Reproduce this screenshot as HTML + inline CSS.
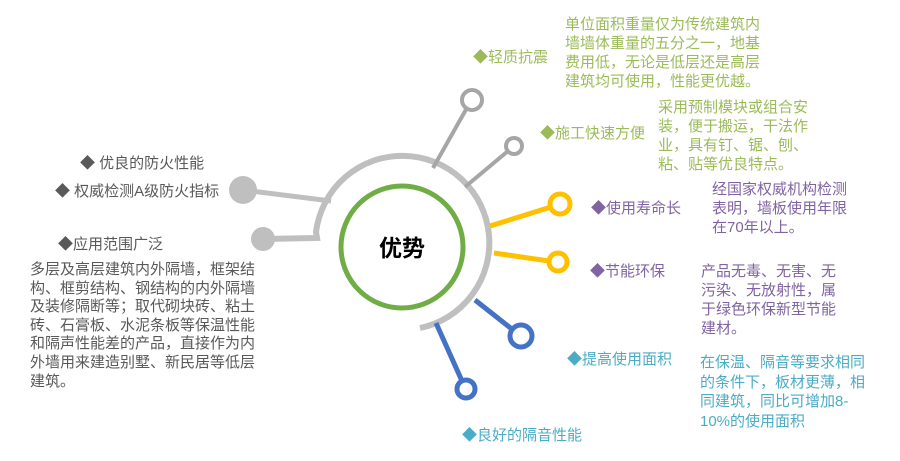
<!DOCTYPE html>
<html><head><meta charset="utf-8"><style>
body{margin:0;width:900px;height:461px;background:#fff;position:relative;overflow:hidden;font-family:"Liberation Sans","Noto Sans CJK SC",sans-serif;}
.t{position:absolute;font-size:15px;line-height:19px;white-space:nowrap;}
.g{color:#9bbb59}.p{color:#8064a2}.b{color:#4bacc6}.d{color:#595959}
svg{position:absolute;left:0;top:0}
</style></head><body>
<svg width="900" height="461">
<path d="M420,328 A87,87 0 1,0 316,232 L317,238 L263,239" fill="none" stroke="#bfbfbf" stroke-width="6"/>
<line x1="331" y1="201" x2="243" y2="190" stroke="#bfbfbf" stroke-width="5"/>
<circle cx="243" cy="190" r="14" fill="#bfbfbf"/>
<circle cx="263" cy="239" r="12" fill="#bfbfbf"/>
<line x1="433" y1="168" x2="468" y2="106" stroke="#a6a6a6" stroke-width="4"/>
<circle cx="472" cy="100" r="10" fill="#fff" stroke="#a6a6a6" stroke-width="4"/>
<line x1="465" y1="187" x2="508" y2="151" stroke="#a6a6a6" stroke-width="4"/>
<circle cx="514" cy="146" r="8" fill="#fff" stroke="#a6a6a6" stroke-width="4"/>
<line x1="490" y1="226" x2="551" y2="207" stroke="#ffc000" stroke-width="5"/>
<circle cx="560" cy="204" r="10" fill="#fff" stroke="#ffc000" stroke-width="5"/>
<line x1="494" y1="253" x2="549" y2="261" stroke="#ffc000" stroke-width="5"/>
<circle cx="558" cy="262" r="9" fill="#fff" stroke="#ffc000" stroke-width="5"/>
<line x1="475" y1="300" x2="513" y2="330" stroke="#4472c4" stroke-width="5"/>
<circle cx="521" cy="336" r="11" fill="#fff" stroke="#4472c4" stroke-width="5"/>
<line x1="436" y1="323" x2="462" y2="381" stroke="#4472c4" stroke-width="5"/>
<circle cx="466" cy="389" r="9" fill="#fff" stroke="#4472c4" stroke-width="5"/>
<circle cx="402" cy="247" r="61" fill="#fff" stroke="#70ad47" stroke-width="5"/>
<text x="402" y="256" text-anchor="middle" font-family="Liberation Sans,Noto Sans CJK SC,sans-serif" font-size="23" font-weight="bold" fill="#000">优势</text>
</svg>
<div class="t g" style="left:473px;top:48px">◆轻质抗震</div>
<div class="t g" style="left:565px;top:15px">单位面积重量仅为传统建筑内<br>墙墙体重量的五分之一，地基<br>费用低，无论是低层还是高层<br>建筑均可使用，性能更优越。</div>
<div class="t g" style="left:540px;top:124px">◆施工快速方便</div>
<div class="t g" style="left:658px;top:98px">采用预制模块或组合安<br>装，便于搬运，干法作<br>业，具有钉、锯、刨、<br>粘、贴等优良特点。</div>
<div class="t p" style="left:591px;top:199px">◆使用寿命长</div>
<div class="t p" style="left:712px;top:180px">经国家权威机构检测<br>表明，墙板使用年限<br>在70年以上。</div>
<div class="t p" style="left:590px;top:262px">◆节能环保</div>
<div class="t p" style="left:701px;top:262px">产品无毒、无害、无<br>污染、无放射性，属<br>于绿色环保新型节能<br>建材。</div>
<div class="t b" style="left:567px;top:350px">◆提高使用面积</div>
<div class="t b" style="left:700px;top:353px;line-height:19.5px">在保温、隔音等要求相同<br>的条件下，板材更薄，相<br>同建筑，同比可增加8-<br>10%的使用面积</div>
<div class="t b" style="left:462px;top:426px">◆良好的隔音性能</div>
<div class="t d" style="left:80px;top:154px">◆ 优良的防火性能</div>
<div class="t d" style="left:55px;top:182px">◆ 权威检测A级防火指标</div>
<div class="t d" style="left:58px;top:235px">◆应用范围广泛</div>
<div class="t d" style="left:30px;top:261px;line-height:18.6px">多层及高层建筑内外隔墙，框架结<br>构、框剪结构、钢结构的内外隔墙<br>及装修隔断等；取代砌块砖、粘土<br>砖、石膏板、水泥条板等保温性能<br>和隔声性能差的产品，直接作为内<br>外墙用来建造别墅、新民居等低层<br>建筑。</div>
</body></html>
